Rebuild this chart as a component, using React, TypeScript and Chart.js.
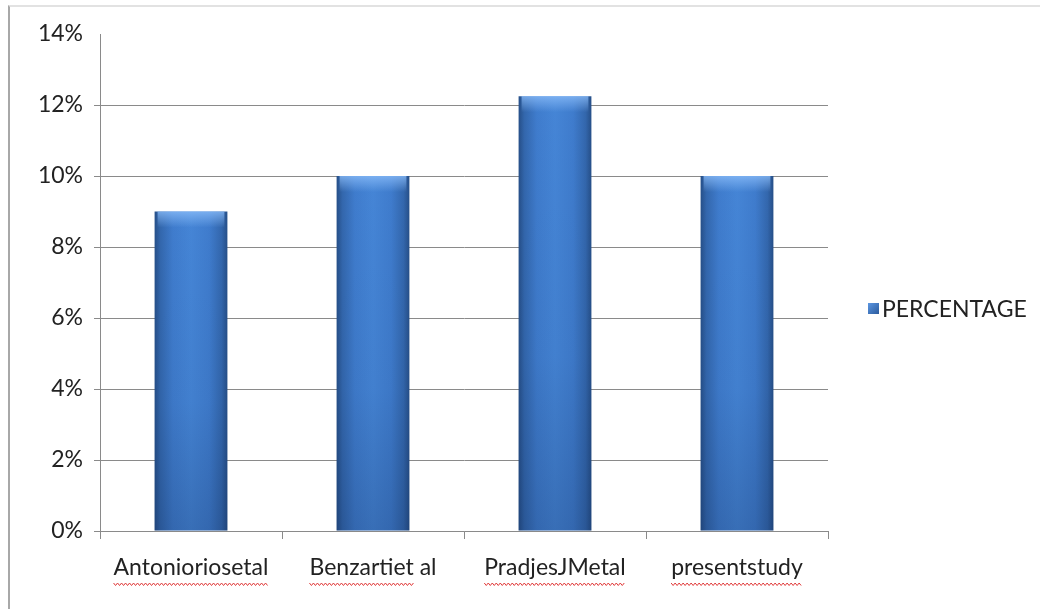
import { useEffect, useRef } from "react";
import { Chart, registerables } from "chart.js";

Chart.register(...registerables);

const categories = ["Antonioriosetal", "Benzartiet al", "PradjesJMetal", "presentstudy"];
const percentages = [9, 10, 12.25, 10];
const seriesLabel = "PERCENTAGE";
const yMin = 0;
const yMax = 14;
const yStep = 2;
const notFlagged = ["al"];

const FONT = "Lato, 'Open Sans', 'DejaVu Sans', sans-serif";
const FONT_SIZE = 23;
const TEXT = "#222222";
const GRID = "#8a8a8a";
const BAR_PCT = 0.4;

function barFill(ctx: any) {
  const chart = ctx.chart;
  const xs = chart.scales && chart.scales.x;
  if (!chart.chartArea || !xs) return "#3d7dcc";
  const c = xs.getPixelForValue(ctx.dataIndex);
  const catW = (xs.right - xs.left) / categories.length;
  const half = (catW * BAR_PCT) / 2;
  const g = chart.ctx.createLinearGradient(c - half, 0, c + half, 0);
  g.addColorStop(0, "#264f88");
  g.addColorStop(0.08, "#3367ad");
  g.addColorStop(0.25, "#3f7ccd");
  g.addColorStop(0.5, "#4585d6");
  g.addColorStop(0.75, "#3f7ccd");
  g.addColorStop(0.92, "#3367ad");
  g.addColorStop(1, "#264f88");
  return g;
}

const bevelPlugin = {
  id: "bevel",
  afterDatasetsDraw(chart: any) {
    const meta = chart.getDatasetMeta(0);
    const c = chart.ctx;
    c.save();
    meta.data.forEach((bar: any) => {
      const left = bar.x - bar.width / 2;
      const top = bar.y;
      const h = bar.base - bar.y;
      const g1 = c.createLinearGradient(0, top, 0, top + 16);
      g1.addColorStop(0, "rgba(140,190,250,0.75)");
      g1.addColorStop(1, "rgba(140,190,250,0)");
      c.fillStyle = g1;
      c.fillRect(left + 3, top, bar.width - 6, 16);
      const g2 = c.createLinearGradient(0, top, 0, bar.base);
      g2.addColorStop(0, "rgba(10,30,70,0)");
      g2.addColorStop(0.6, "rgba(10,30,70,0.05)");
      g2.addColorStop(1, "rgba(10,30,70,0.22)");
      c.fillStyle = g2;
      c.fillRect(left, top, bar.width, h);
    });
    c.restore();
  },
};

const decorPlugin = {
  id: "decor",
  afterDraw(chart: any) {
    const c = chart.ctx;
    const xs = chart.scales.x;
    const area = chart.chartArea;
    // spelling squiggles under the category labels
    c.save();
    c.font = `${FONT_SIZE}px ${FONT}`;
    c.strokeStyle = "#e03a3a";
    c.lineWidth = 1;
    const yLine = area.bottom + 52;
    categories.forEach((label, i) => {
      const cx = xs.getPixelForTick(i);
      const total = c.measureText(label).width;
      let x = cx - total / 2;
      const words = label.split(" ");
      words.forEach((w, wi) => {
        const ww = c.measureText(w).width;
        if (!notFlagged.includes(w)) {
          c.beginPath();
          for (let p = 0; p <= ww; p += 2) {
            const yy = yLine + ((Math.floor(p / 2) % 2) === 0 ? 0 : 2.5);
            if (p === 0) c.moveTo(x + p, yy);
            else c.lineTo(x + p, yy);
          }
          c.stroke();
        }
        x += ww + (wi < words.length - 1 ? c.measureText(" ").width : 0);
      });
    });
    c.restore();

    // legend
    c.save();
    const lx = area.right + 40;
    const ly = chart.height / 2 + 4;
    const g = c.createLinearGradient(lx, ly - 5, lx + 11, ly + 6);
    g.addColorStop(0, "#5b95e0");
    g.addColorStop(1, "#2a5a9c");
    c.fillStyle = g;
    c.fillRect(lx, ly - 5.5, 11, 11);
    c.font = `${FONT_SIZE}px ${FONT}`;
    c.fillStyle = TEXT;
    c.textBaseline = "middle";
    c.textAlign = "left";
    c.fillText(seriesLabel, lx + 14, ly + 1);
    c.restore();
  },
};

export default function App() {
  const ref = useRef<HTMLCanvasElement | null>(null);

  useEffect(() => {
    if (!ref.current) return;
    const chart = new Chart(ref.current, {
      type: "bar",
      data: {
        labels: categories,
        datasets: [
          {
            label: seriesLabel,
            data: percentages,
            backgroundColor: barFill,
            borderWidth: 0,
            categoryPercentage: 1,
            barPercentage: BAR_PCT,
          },
        ],
      },
      options: {
        responsive: false,
        animation: false,
        devicePixelRatio: 1,
        layout: { padding: { top: 34, right: 212, bottom: 0, left: 0 } },
        plugins: {
          legend: { display: false },
          tooltip: { enabled: false },
        },
        scales: {
          x: {
            afterFit: (s: any) => {
              s.height = 78;
            },
            grid: {
              offset: true,
              drawOnChartArea: false,
              drawTicks: true,
              tickLength: 8,
              color: GRID,
            },
            border: { display: true, color: GRID, width: 1 },
            ticks: {
              color: TEXT,
              padding: 15,
              font: { family: FONT, size: FONT_SIZE },
              maxRotation: 0,
              autoSkip: false,
            },
          },
          y: {
            min: yMin,
            max: yMax,
            afterFit: (s: any) => {
              s.width = 100;
            },
            grid: {
              color: (ctx: any) =>
                ctx.tick && ctx.tick.value === yMax ? "rgba(0,0,0,0)" : GRID,
              tickLength: 6,
              drawTicks: true,
            },
            border: { display: true, color: GRID, width: 1 },
            ticks: {
              stepSize: yStep,
              color: TEXT,
              padding: 11,
              font: { family: FONT, size: FONT_SIZE },
              callback: (v: any) => `${v}%`,
            },
          },
        },
      },
      plugins: [bevelPlugin, decorPlugin],
    });
    return () => chart.destroy();
  }, []);

  return (
    <div style={{ position: "absolute", left: 0, top: 0, width: 1040, height: 609, background: "#fff" }}>
      <div
        style={{
          position: "absolute",
          left: 8,
          top: 5,
          width: 1032,
          height: 604,
          borderLeft: "2px solid #a8a8a8",
          borderTop: "2px solid #e2e2e2",
        }}
      />
      <canvas
        ref={ref}
        width={1040}
        height={609}
        style={{ position: "absolute", left: 0, top: 0, width: 1040, height: 609 }}
      />
    </div>
  );
}
